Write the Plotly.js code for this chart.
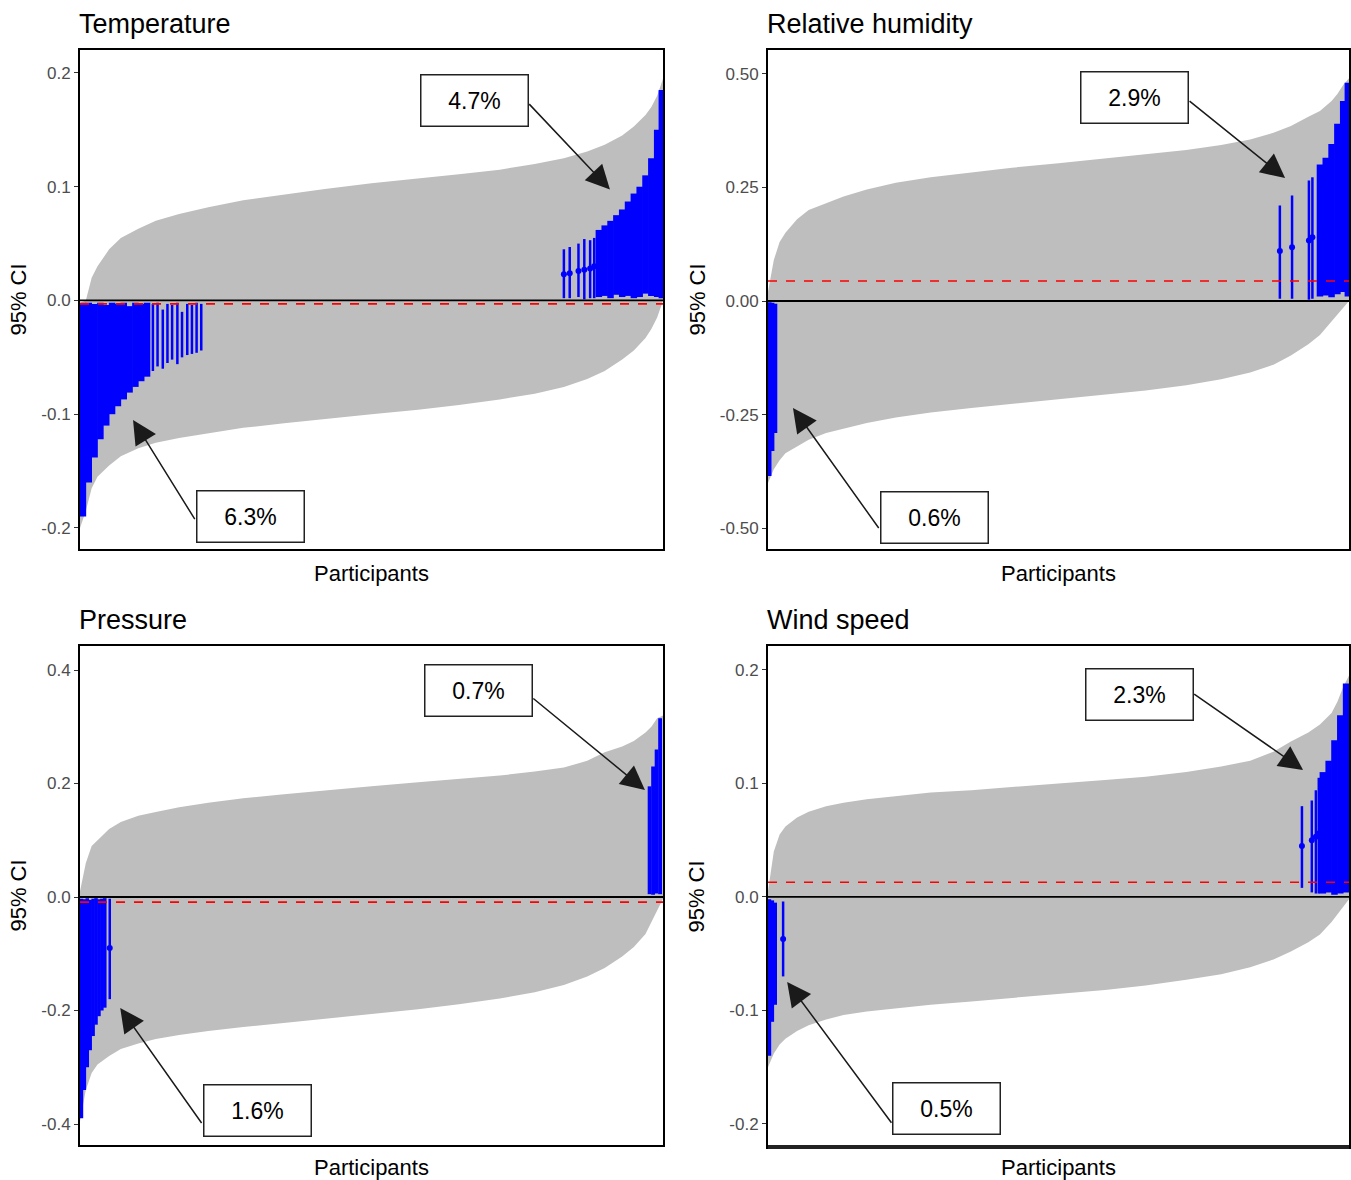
<!DOCTYPE html>
<html>
<head>
<meta charset="utf-8">
<script src="https://cdn.plot.ly/plotly-3.0.1.min.js"></script>
<style>html,body{margin:0;padding:0;background:#fff;}#chart{width:1351px;height:1180px;}</style>
</head>
<body>
<div id="chart"></div>
<script>
// ---------- DATA (participant rank in % of sorted participants) ----------
const ranks = [0,1,2,3,5,7,10,13,17,22,28,35,42,50,58,65,72,78,83,87,90,93,95,97,98,99,100];

const panelTitles = ['Temperature','Relative humidity','Pressure','Wind speed'];

// Temperature
const tempLower = [-0.2,-0.185,-0.165,-0.155,-0.145,-0.137,-0.13,-0.125,-0.121,-0.117,-0.112,-0.108,-0.104,-0.1,-0.096,-0.092,-0.087,-0.082,-0.076,-0.069,-0.062,-0.052,-0.044,-0.033,-0.025,-0.015,0.0];
const tempUpper = [-0.002,0.0,0.02,0.03,0.045,0.055,0.063,0.07,0.076,0.082,0.088,0.093,0.098,0.103,0.107,0.111,0.115,0.12,0.125,0.131,0.137,0.145,0.153,0.163,0.17,0.18,0.195];
const tempMean = -0.003;
const tempLeftDenseRank = [0.5,1.5,2.5,3.5,4.5,5.5,6.5,7.5,8.5,9.5,10.5,11.5];
const tempLeftDenseLo = [-0.19,-0.16,-0.138,-0.122,-0.11,-0.1,-0.093,-0.087,-0.081,-0.076,-0.071,-0.067];
const tempLeftDenseHi = [-0.002,-0.002,-0.003,-0.002,-0.004,-0.002,-0.003,-0.002,-0.005,-0.002,-0.003,-0.002];
const tempLeftSparseRank = [12.5,13.3,14.2,15,15.8,16.7,17.5,18.4,19.2,20,20.8];
const tempLeftSparseLo = [-0.062,-0.058,-0.06,-0.055,-0.052,-0.056,-0.05,-0.048,-0.047,-0.046,-0.044];
const tempLeftSparseHi = [-0.003,-0.002,-0.008,-0.003,-0.004,-0.002,-0.01,-0.003,-0.004,-0.002,-0.003];
const tempRightSparseRank = [83,84,85.5,86.5,87.5,88.2];
const tempRightSparseLo = [0.002,0.002,0.003,0.001,0.002,0.002];
const tempRightSparseHi = [0.045,0.047,0.05,0.054,0.053,0.055];
const tempRightSparseEst = [0.023,0.024,0.026,0.027,0.028,0.03];
const tempRightDenseRank = [89,90,91,92,93,94,95,96,97,98,99,99.8];
const tempRightDenseLo = [0.003,0.004,0.002,0.005,0.003,0.004,0.002,0.003,0.006,0.004,0.003,0.002];
const tempRightDenseHi = [0.062,0.066,0.07,0.075,0.08,0.087,0.094,0.1,0.11,0.125,0.15,0.185];

// Relative humidity
const rhLower = [-0.4,-0.37,-0.35,-0.335,-0.32,-0.305,-0.29,-0.28,-0.268,-0.256,-0.245,-0.235,-0.226,-0.217,-0.207,-0.197,-0.185,-0.172,-0.157,-0.14,-0.12,-0.095,-0.075,-0.045,-0.03,-0.015,0.0];
const rhUpper = [0.02,0.09,0.13,0.15,0.18,0.2,0.215,0.23,0.245,0.26,0.272,0.283,0.293,0.303,0.313,0.322,0.332,0.343,0.355,0.37,0.385,0.405,0.418,0.44,0.455,0.475,0.49];
const rhMean = 0.044;
const rhLeftDenseRank = [0.3,0.8,1.3];
const rhLeftDenseLo = [-0.385,-0.33,-0.29];
const rhLeftDenseHi = [-0.003,-0.004,-0.006];
const rhRightSparseRank = [88.1,90.2,93.1,93.7];
const rhRightSparseLo = [0.005,0.005,0.003,0.005];
const rhRightSparseHi = [0.21,0.232,0.265,0.272];
const rhRightSparseEst = [0.11,0.118,0.133,0.14];
const rhRightDenseRank = [95,96,97,98,99,99.8];
const rhRightDenseLo = [0.01,0.012,0.008,0.015,0.02,0.01];
const rhRightDenseHi = [0.3,0.315,0.345,0.39,0.44,0.48];

// Pressure
const presLower = [-0.395,-0.34,-0.31,-0.295,-0.28,-0.268,-0.258,-0.25,-0.243,-0.236,-0.229,-0.222,-0.215,-0.207,-0.198,-0.189,-0.179,-0.168,-0.155,-0.14,-0.125,-0.105,-0.088,-0.065,-0.045,-0.025,-0.003];
const presUpper = [0.01,0.06,0.09,0.1,0.12,0.132,0.143,0.15,0.158,0.166,0.174,0.181,0.188,0.195,0.202,0.208,0.214,0.221,0.228,0.24,0.255,0.265,0.275,0.29,0.3,0.315,0.32];
const presMean = -0.009;
const presLeftDenseRank = [0.25,0.75,1.25,1.75,2.25,2.75,3.25,3.75,4.25];
const presLeftDenseLo = [-0.39,-0.34,-0.3,-0.27,-0.245,-0.225,-0.21,-0.2,-0.195];
const presLeftDenseHi = [-0.003,-0.004,-0.002,-0.005,-0.003,-0.002,-0.004,-0.003,-0.002];
const presLeftSparseRank = [5.1];
const presLeftSparseLo = [-0.18];
const presLeftSparseHi = [-0.003];
const presLeftSparseEst = [-0.09];
const presRightDenseRank = [97.7,98.3,98.9,99.5];
const presRightDenseLo = [0.005,0.004,0.006,0.005];
const presRightDenseHi = [0.195,0.23,0.26,0.315];

// Wind speed
const windLower = [-0.15,-0.138,-0.13,-0.125,-0.118,-0.113,-0.108,-0.104,-0.101,-0.098,-0.095,-0.092,-0.089,-0.086,-0.082,-0.078,-0.073,-0.068,-0.062,-0.055,-0.048,-0.04,-0.033,-0.022,-0.015,-0.008,-0.002];
const windUpper = [0.005,0.04,0.055,0.062,0.07,0.075,0.08,0.083,0.086,0.089,0.092,0.094,0.097,0.1,0.103,0.106,0.11,0.115,0.12,0.128,0.137,0.145,0.152,0.162,0.172,0.185,0.195];
const windMean = 0.013;
const windLeftDenseRank = [0.25,0.75,1.25];
const windLeftDenseLo = [-0.14,-0.11,-0.095];
const windLeftDenseHi = [-0.002,-0.003,-0.005];
const windLeftSparseRank = [2.6];
const windLeftSparseLo = [-0.07];
const windLeftSparseHi = [-0.004];
const windLeftSparseEst = [-0.037];
const windRightSparseRank = [91.9,93.6,94.3,94.8];
const windRightSparseLo = [0.008,0.004,0.003,0.003];
const windRightSparseHi = [0.08,0.085,0.094,0.105];
const windRightSparseEst = [0.045,0.05,0.053,0.056];
const windRightDenseRank = [95.5,96.5,97.5,98.5,99.5];
const windRightDenseLo = [0.003,0.004,0.002,0.003,0.004];
const windRightDenseHi = [0.11,0.12,0.138,0.16,0.188];

// share of significant participants (labels)
const tempPct = ['4.7%','6.3%'];
const rhPct = ['2.9%','0.6%'];
const presPct = ['0.7%','1.6%'];
const windPct = ['2.3%','0.5%'];

// tick labels
const tempTickVals = [-0.2,-0.1,0,0.1,0.2];
const tempTickText = ['-0.2','-0.1','0.0','0.1','0.2'];
const rhTickVals = [-0.5,-0.25,0,0.25,0.5];
const rhTickText = ['-0.50','-0.25','0.00','0.25','0.50'];
const presTickVals = [-0.4,-0.2,0,0.2,0.4];
const presTickText = ['-0.4','-0.2','0.0','0.2','0.4'];
const windTickVals = [-0.2,-0.1,0,0.1,0.2];
const windTickText = ['-0.2','-0.1','0.0','0.1','0.2'];

// ---------- BUILD ----------
const GRAY = '#bebebe', BLUE = '#0000ff';
const FONT = 'Liberation Sans, Arial, sans-serif';

function segs(r, lo, hi) {
  const x = [], y = [];
  for (let i = 0; i < r.length; i++) { x.push(r[i], r[i], null); y.push(lo[i], hi[i], null); }
  return {x, y};
}
const traces = [];
function addBand(ax, lower, upper) {
  traces.push({type:'scatter', mode:'lines', x:ranks, y:lower, xaxis:'x'+ax, yaxis:'y'+ax,
    line:{width:0, color:GRAY}, hoverinfo:'skip'});
  traces.push({type:'scatter', mode:'lines', x:ranks, y:upper, xaxis:'x'+ax, yaxis:'y'+ax,
    line:{width:0, color:GRAY}, fill:'tonexty', fillcolor:GRAY, hoverinfo:'skip'});
}
function addSegs(ax, r, lo, hi, w) {
  const s = segs(r, lo, hi);
  traces.push({type:'scatter', mode:'lines', x:s.x, y:s.y, xaxis:'x'+ax, yaxis:'y'+ax,
    line:{width:w, color:BLUE}, connectgaps:false, hoverinfo:'skip'});
}
function addDots(ax, r, est) {
  traces.push({type:'scatter', mode:'markers', x:r, y:est, xaxis:'x'+ax, yaxis:'y'+ax,
    marker:{size:6, color:BLUE}, hoverinfo:'skip'});
}

// panel 1
addBand('', tempLower, tempUpper);
addSegs('', tempLeftDenseRank, tempLeftDenseLo, tempLeftDenseHi, 6.5);
addSegs('', tempLeftSparseRank, tempLeftSparseLo, tempLeftSparseHi, 2.5);
addSegs('', tempRightSparseRank, tempRightSparseLo, tempRightSparseHi, 2.5);
addDots('', tempRightSparseRank, tempRightSparseEst);
addSegs('', tempRightDenseRank, tempRightDenseLo, tempRightDenseHi, 6.5);
// panel 2
addBand('2', rhLower, rhUpper);
addSegs('2', rhLeftDenseRank, rhLeftDenseLo, rhLeftDenseHi, 3.5);
addSegs('2', rhRightSparseRank, rhRightSparseLo, rhRightSparseHi, 2.5);
addDots('2', rhRightSparseRank, rhRightSparseEst);
addSegs('2', rhRightDenseRank, rhRightDenseLo, rhRightDenseHi, 6.5);
// panel 3
addBand('3', presLower, presUpper);
addSegs('3', presLeftDenseRank, presLeftDenseLo, presLeftDenseHi, 3.5);
addSegs('3', presLeftSparseRank, presLeftSparseLo, presLeftSparseHi, 2.5);
addDots('3', presLeftSparseRank, presLeftSparseEst);
addSegs('3', presRightDenseRank, presRightDenseLo, presRightDenseHi, 3.8);
// panel 4
addBand('4', windLower, windUpper);
addSegs('4', windLeftDenseRank, windLeftDenseLo, windLeftDenseHi, 3.5);
addSegs('4', windLeftSparseRank, windLeftSparseLo, windLeftSparseHi, 2.5);
addDots('4', windLeftSparseRank, windLeftSparseEst);
addSegs('4', windRightSparseRank, windRightSparseLo, windRightSparseHi, 2.5);
addDots('4', windRightSparseRank, windRightSparseEst);
addSegs('4', windRightDenseRank, windRightDenseLo, windRightDenseHi, 6.5);

const W = 1351, H = 1180;
function xAx(px0, px1, anchor) {
  return {domain:[px0/W, px1/W], anchor:anchor, range:[0,100], showticklabels:false, ticks:'',
    showgrid:false, zeroline:false, showline:true, mirror:true, linecolor:'#000', linewidth:2,
    fixedrange:true,
    title:{text:'Participants', font:{family:FONT, size:22, color:'#000'}, standoff:16}};
}
function yAx(py0, py1, anchor, range, tv, tt, so) {
  return {domain:[1-py1/H, 1-py0/H], anchor:anchor, range:range, tickmode:'array', tickvals:tv, ticktext:tt,
    ticks:'outside', ticklen:4, tickwidth:1, tickcolor:'#333',
    tickfont:{family:FONT, size:17, color:'#4d4d4d'},
    showgrid:false, zeroline:false, showline:true, mirror:true, linecolor:'#000', linewidth:2,
    fixedrange:true,
    title:{text:'95% CI', font:{family:FONT, size:22, color:'#000'}, standoff:so}};
}

const shapes = [];
function hline(ax, y, color, dash, w) {
  shapes.push({type:'line', xref:'x'+ax+' domain', yref:'y'+ax, x0:0, x1:1, y0:y, y1:y,
    line:{color:color, width:w, dash:dash}, layer:'above'});
}
[['',tempMean],['2',rhMean],['3',presMean],['4',windMean]].forEach(([ax,m]) => {
  hline(ax, 0, '#000', 'solid', 1.8);
  hline(ax, m, '#ff0000', 'dash', 1.6);
});
// heavier bottom frame on the wind-speed panel
shapes.push({type:'line', xref:'x4 domain', yref:'y4 domain', x0:0, x1:1, y0:0, y1:0,
  line:{color:'#222', width:4}, layer:'above'});

const annotations = [];
function title(txt, px, py) {
  annotations.push({text:txt, xref:'paper', yref:'paper', x:px/W, y:1-py/H, xanchor:'left', yanchor:'middle',
    showarrow:false, font:{family:FONT, size:27, color:'#000'}});
}
title(panelTitles[0], 77, 24);
title(panelTitles[1], 765, 24);
title(panelTitles[2], 77, 620);
title(panelTitles[3], 765, 620);

function box(ax, txt, x, y) {
  annotations.push({text:txt, xref:'x'+ax, yref:'y'+ax, x:x, y:y, showarrow:false,
    font:{family:FONT, size:23, color:'#000'}, bgcolor:'#fff', bordercolor:'#222', borderwidth:1.5,
    borderpad:1, width:104, height:48, align:'center', valign:'middle'});
}
function arrow(ax, x0, y0, x1, y1) {
  annotations.push({text:' ', xref:'x'+ax, yref:'y'+ax, axref:'x'+ax, ayref:'y'+ax,
    x:x1, y:y1, ax:x0, ay:y0, showarrow:true, arrowhead:2, arrowsize:3.2, arrowwidth:1.5,
    arrowcolor:'#1a1a1a', standoff:0, startstandoff:0, font:{size:1}});
}
// Temperature
arrow('', 76.8, 0.174, 90.9, 0.0976);
arrow('', 19.9, -0.194, 9.1, -0.105);
box('', tempPct[0], 67.6, 0.1755);
box('', tempPct[1], 29.2, -0.1895);
// RH
arrow('2', 72.3, 0.442, 89.0, 0.2705);
arrow('2', 19.3, -0.5035, 4.3, -0.235);
box('2', rhPct[0], 63.0, 0.4475);
box('2', rhPct[1], 28.6, -0.475);
// Pressure
arrow('3', 77.5, 0.352, 96.9, 0.1885);
arrow('3', 21.1, -0.4017, 6.9, -0.1956);
box('3', presPct[0], 68.4, 0.3639);
box('3', presPct[1], 30.4, -0.376);
// Wind
arrow('4', 73.1, 0.1797, 92.1, 0.1119);
arrow('4', 21.5, -0.2007, 3.3, -0.0749);
box('4', windPct[0], 63.9, 0.1788);
box('4', windPct[1], 30.7, -0.1863);

const layout = {
  width:W, height:H, margin:{l:0,r:0,t:0,b:0}, paper_bgcolor:'#fff', plot_bgcolor:'#fff',
  showlegend:false, font:{family:FONT},
  xaxis: xAx(80, 663, 'y'),
  xaxis2: xAx(768, 1349, 'y2'),
  xaxis3: xAx(80, 663, 'y3'),
  xaxis4: xAx(768, 1349, 'y4'),
  yaxis: yAx(50, 549, 'x', [-0.2185, 0.2202], tempTickVals, tempTickText, 9),
  yaxis2: yAx(50, 549, 'x2', [-0.5453, 0.5519], rhTickVals, rhTickText, 8),
  yaxis3: yAx(646, 1145, 'x3', [-0.437, 0.4423], presTickVals, presTickText, 9),
  yaxis4: yAx(646, 1147, 'x4', [-0.2203, 0.2211], windTickVals, windTickText, 19),
  shapes: shapes, annotations: annotations
};
Plotly.newPlot('chart', traces, layout, {displayModeBar:false, staticPlot:true});
</script>
</body>
</html>
